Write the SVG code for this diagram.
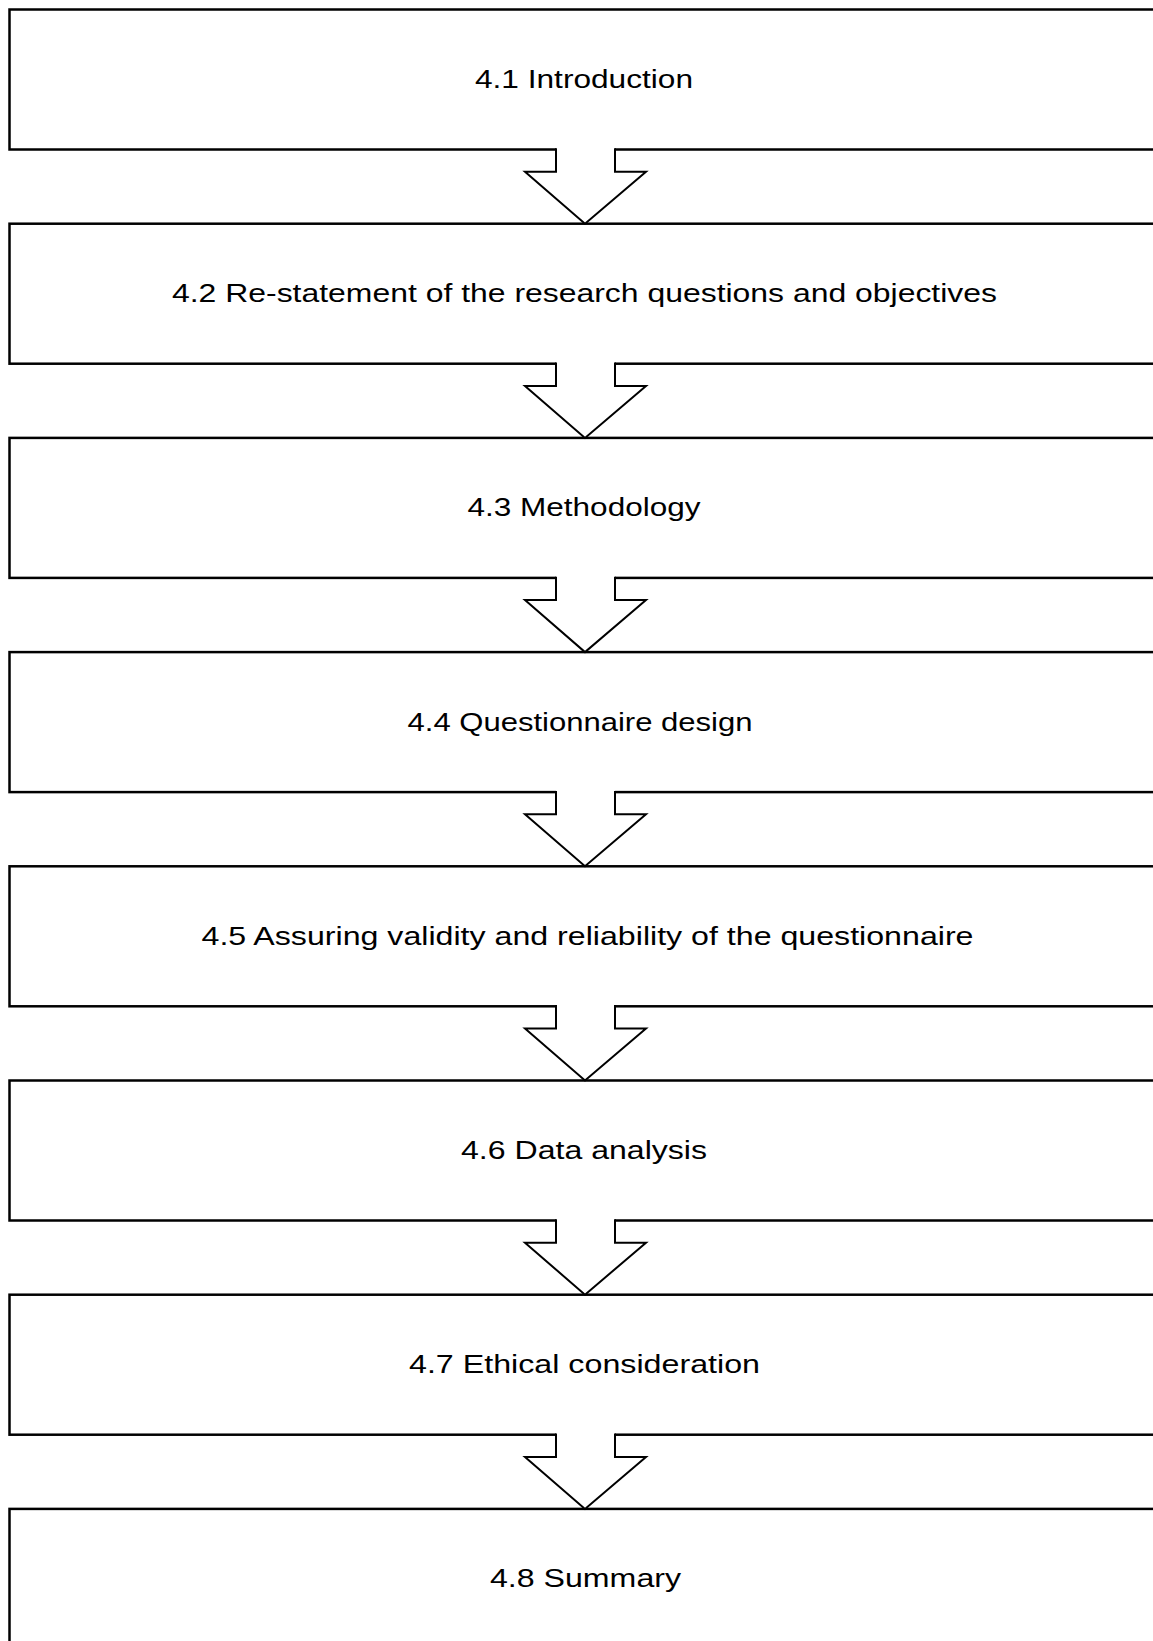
<svg xmlns="http://www.w3.org/2000/svg" width="1153" height="1641" viewBox="0 0 1153 1641">
<style>
.box{fill:#fff;stroke:#000;stroke-width:2.5}
.lbl{font-family:"Liberation Sans",Arial,sans-serif;font-size:26.5px;fill:#000;text-anchor:middle}
.afill{fill:#fff;stroke:none}
.aline{fill:none;stroke:#000;stroke-width:2;stroke-linejoin:miter}
</style>
<defs>
<g id="arrow">
<path class="afill" d="M556,146.5 V171.7 H525 L585,223.7 L646,171.7 H615 V146.5 Z"/>
<path class="aline" d="M556,148.3 V171.7 H525 L585,223.7 L646,171.7 H615 V148.3"/>
</g>
</defs>
<rect width="1153" height="1641" fill="#fff"/>
<g id="n1"><rect class="box" x="9.5" y="9.5" width="1200" height="140"/><text class="lbl" x="584" y="88" textLength="218" lengthAdjust="spacingAndGlyphs">4.1 Introduction</text></g>
<g id="n2"><rect class="box" x="9.5" y="223.7" width="1200" height="140"/><text class="lbl" x="584.5" y="302" textLength="825" lengthAdjust="spacingAndGlyphs">4.2 Re-statement of the research questions and objectives</text></g>
<g id="n3"><rect class="box" x="9.5" y="437.9" width="1200" height="140"/><text class="lbl" x="584" y="516.4" textLength="233" lengthAdjust="spacingAndGlyphs">4.3 Methodology</text></g>
<g id="n4"><rect class="box" x="9.5" y="652.1" width="1200" height="140"/><text class="lbl" x="580" y="730.6" textLength="345" lengthAdjust="spacingAndGlyphs">4.4 Questionnaire design</text></g>
<g id="n5"><rect class="box" x="9.5" y="866.3" width="1200" height="140"/><text class="lbl" x="587.5" y="944.8" textLength="772" lengthAdjust="spacingAndGlyphs">4.5 Assuring validity and reliability of the questionnaire</text></g>
<g id="n6"><rect class="box" x="9.5" y="1080.5" width="1200" height="140"/><text class="lbl" x="584" y="1159" textLength="246" lengthAdjust="spacingAndGlyphs">4.6 Data analysis</text></g>
<g id="n7"><rect class="box" x="9.5" y="1294.7" width="1200" height="140"/><text class="lbl" x="584.5" y="1373.2" textLength="351" lengthAdjust="spacingAndGlyphs">4.7 Ethical consideration</text></g>
<g id="n8"><rect class="box" x="9.5" y="1508.9" width="1200" height="160"/><text class="lbl" x="585.5" y="1587.4" textLength="191" lengthAdjust="spacingAndGlyphs">4.8 Summary</text></g>
<g id="connectors">
<use href="#arrow"/>
<use href="#arrow" transform="translate(0,214.2)"/>
<use href="#arrow" transform="translate(0,428.4)"/>
<use href="#arrow" transform="translate(0,642.6)"/>
<use href="#arrow" transform="translate(0,856.8)"/>
<use href="#arrow" transform="translate(0,1071)"/>
<use href="#arrow" transform="translate(0,1285.2)"/>
</g>
</svg>
